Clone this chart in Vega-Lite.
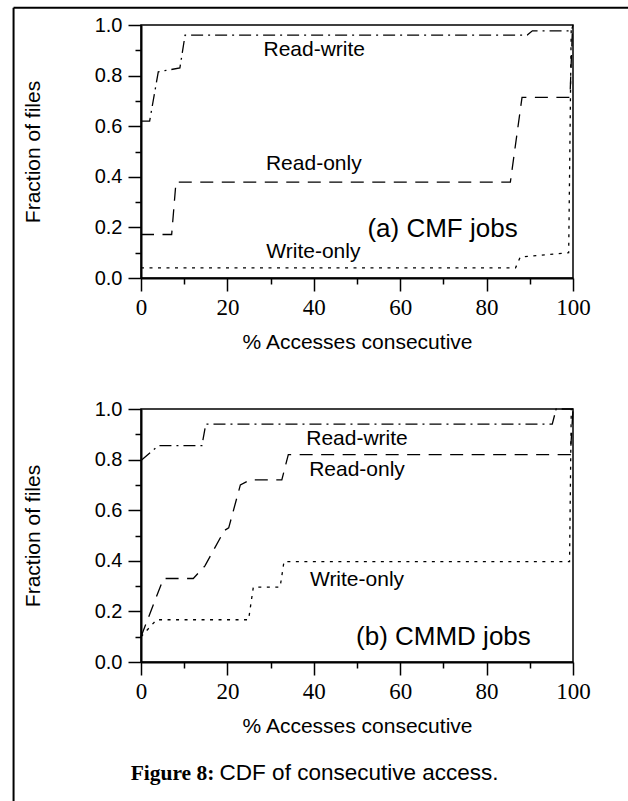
{
  "$schema": "https://vega.github.io/schema/vega-lite/v6.json",
  "autosize": {"type": "pad"},
  "padding": {"left": 11, "top": 6, "right": 0, "bottom": 0},
  "background": "white",
  "config": {
    "view": {"stroke": "black", "strokeWidth": 1.5},
    "axis": {
      "domainColor": "black", "domainWidth": 2, "tickColor": "black", "tickWidth": 1.5,
      "labelColor": "black", "titleColor": "black", "grid": false,
      "titleFont": "Liberation Sans", "titleFontWeight": "normal", "titleFontSize": 21
    },
    "text": {"font": "Liberation Sans", "color": "black"}
  },
  "datasets": {
    "curves": [
      {"panel": "a", "series": "Read-write", "x": 0, "y": 0.62},
      {"panel": "a", "series": "Read-write", "x": 2, "y": 0.62},
      {"panel": "a", "series": "Read-write", "x": 4, "y": 0.815},
      {"panel": "a", "series": "Read-write", "x": 9, "y": 0.83},
      {"panel": "a", "series": "Read-write", "x": 10.2, "y": 0.96},
      {"panel": "a", "series": "Read-write", "x": 89.4, "y": 0.96},
      {"panel": "a", "series": "Read-write", "x": 90.6, "y": 0.977},
      {"panel": "a", "series": "Read-write", "x": 99.6, "y": 0.977},
      {"panel": "a", "series": "Read-write", "x": 100, "y": 1},
      {"panel": "a", "series": "Read-only", "x": 0, "y": 0.172},
      {"panel": "a", "series": "Read-only", "x": 7.1, "y": 0.172},
      {"panel": "a", "series": "Read-only", "x": 8.1, "y": 0.379},
      {"panel": "a", "series": "Read-only", "x": 85.5, "y": 0.379},
      {"panel": "a", "series": "Read-only", "x": 88.2, "y": 0.714},
      {"panel": "a", "series": "Read-only", "x": 99.3, "y": 0.714},
      {"panel": "a", "series": "Read-only", "x": 99.9, "y": 1},
      {"panel": "a", "series": "Write-only", "x": 0, "y": 0.04},
      {"panel": "a", "series": "Write-only", "x": 86.7, "y": 0.04},
      {"panel": "a", "series": "Write-only", "x": 87.8, "y": 0.083},
      {"panel": "a", "series": "Write-only", "x": 99, "y": 0.1},
      {"panel": "a", "series": "Write-only", "x": 99.6, "y": 1},
      {"panel": "b", "series": "Read-write", "x": 0, "y": 0.796},
      {"panel": "b", "series": "Read-write", "x": 4, "y": 0.855},
      {"panel": "b", "series": "Read-write", "x": 14.1, "y": 0.855},
      {"panel": "b", "series": "Read-write", "x": 15, "y": 0.94},
      {"panel": "b", "series": "Read-write", "x": 95.2, "y": 0.94},
      {"panel": "b", "series": "Read-write", "x": 96.1, "y": 1},
      {"panel": "b", "series": "Read-write", "x": 100, "y": 1},
      {"panel": "b", "series": "Read-only", "x": 0, "y": 0.1},
      {"panel": "b", "series": "Read-only", "x": 5.2, "y": 0.33},
      {"panel": "b", "series": "Read-only", "x": 12.1, "y": 0.33},
      {"panel": "b", "series": "Read-only", "x": 14.8, "y": 0.38},
      {"panel": "b", "series": "Read-only", "x": 19.3, "y": 0.52},
      {"panel": "b", "series": "Read-only", "x": 20.3, "y": 0.53},
      {"panel": "b", "series": "Read-only", "x": 23, "y": 0.7},
      {"panel": "b", "series": "Read-only", "x": 25.3, "y": 0.72},
      {"panel": "b", "series": "Read-only", "x": 32.6, "y": 0.72},
      {"panel": "b", "series": "Read-only", "x": 34.1, "y": 0.82},
      {"panel": "b", "series": "Read-only", "x": 99.4, "y": 0.82},
      {"panel": "b", "series": "Read-only", "x": 100, "y": 1},
      {"panel": "b", "series": "Write-only", "x": 0, "y": 0.1},
      {"panel": "b", "series": "Write-only", "x": 3.6, "y": 0.167},
      {"panel": "b", "series": "Write-only", "x": 24.9, "y": 0.167},
      {"panel": "b", "series": "Write-only", "x": 26, "y": 0.296},
      {"panel": "b", "series": "Write-only", "x": 32.2, "y": 0.296},
      {"panel": "b", "series": "Write-only", "x": 33.1, "y": 0.397},
      {"panel": "b", "series": "Write-only", "x": 99.2, "y": 0.397},
      {"panel": "b", "series": "Write-only", "x": 99.6, "y": 1}
    ],
    "labels": [
      {"panel": "a", "kind": "series", "label": "Read-write", "x": 40.1, "y": 0.9},
      {"panel": "a", "kind": "series", "label": "Read-only", "x": 40, "y": 0.45},
      {"panel": "a", "kind": "series", "label": "Write-only", "x": 39.9, "y": 0.102},
      {"panel": "a", "kind": "panel", "label": "(a) CMF jobs", "x": 69.8, "y": 0.194},
      {"panel": "b", "kind": "series", "label": "Read-write", "x": 50, "y": 0.88},
      {"panel": "b", "kind": "series", "label": "Read-only", "x": 50, "y": 0.757},
      {"panel": "b", "kind": "series", "label": "Write-only", "x": 50, "y": 0.324},
      {"panel": "b", "kind": "panel", "label": "(b) CMMD jobs", "x": 70, "y": 0.098}
    ],
    "one": [{}]
  },
  "vconcat": [
    {
      "width": 432, "height": 253,
      "resolve": {"axis": {"x": "independent", "y": "independent"}},
      "layer": [
        {
          "data": {"name": "curves"},
          "transform": [{"filter": "datum.panel === 'a'"}],
          "mark": {"type": "line", "color": "black", "strokeWidth": 1.3},
          "encoding": {
            "x": {"field": "x", "type": "quantitative", "scale": {"domain": [0, 100], "nice": false},
              "axis": {"orient": "bottom", "values": [0, 20, 40, 60, 80, 100], "tickSize": 13, "labelFont": "Liberation Serif", "labelFontSize": 23, "labelPadding": 5, "labelFlush": false, "title": "% Accesses consecutive", "titlePadding": 12}},
            "y": {"field": "y", "type": "quantitative", "scale": {"domain": [0, 1], "nice": false},
              "axis": {"orient": "left", "values": [0, 0.2, 0.4, 0.6, 0.8, 1], "format": ".1f", "tickSize": 13, "labelFont": "Liberation Sans", "labelFontSize": 20, "labelPadding": 6, "labelFlush": false, "title": "Fraction of files", "titlePadding": 51}},
            "strokeDash": {"field": "series", "type": "nominal",
              "scale": {"domain": ["Read-write", "Read-only", "Write-only"], "range": [[12, 5, 2, 5], [13, 8.5], [3, 5.5]]}, "legend": null}
          }
        },
        {
          "data": {"name": "labels"},
          "transform": [{"filter": "datum.panel === 'a'"}],
          "mark": {"type": "text", "align": "center", "baseline": "middle"},
          "encoding": {
            "x": {"field": "x", "type": "quantitative", "scale": {"domain": [0, 100], "nice": false},
              "axis": {"orient": "bottom", "values": [10, 30, 50, 70, 90], "tickSize": 6, "labels": false, "domain": false, "title": null}},
            "y": {"field": "y", "type": "quantitative", "scale": {"domain": [0, 1], "nice": false},
              "axis": {"orient": "left", "values": [0.1, 0.3, 0.5, 0.7, 0.9], "tickSize": 6, "labels": false, "domain": false, "title": null}},
            "text": {"field": "label"},
            "size": {"field": "kind", "type": "ordinal", "scale": {"domain": ["series", "panel"], "range": [21, 26]}, "legend": null}
          }
        },
        {
          "data": {"name": "one"},
          "mark": {"type": "rule", "color": "black", "strokeWidth": 2},
          "encoding": {
            "x": {"datum": -29.5, "type": "quantitative", "axis": null},
            "y": {"datum": 1.068, "type": "quantitative", "axis": null},
            "y2": {"datum": -2.1}
          }
        },
        {
          "data": {"name": "one"},
          "mark": {"type": "rule", "color": "black", "strokeWidth": 2},
          "encoding": {
            "x": {"datum": -29.5, "type": "quantitative", "axis": null},
            "x2": {"datum": 116},
            "y": {"datum": 1.068, "type": "quantitative", "axis": null}
          }
        }
      ]
    },
    {
      "width": 432, "height": 253,
      "resolve": {"axis": {"x": "independent", "y": "independent"}},
      "layer": [
        {
          "data": {"name": "curves"},
          "transform": [{"filter": "datum.panel === 'b'"}],
          "mark": {"type": "line", "color": "black", "strokeWidth": 1.3},
          "encoding": {
            "x": {"field": "x", "type": "quantitative", "scale": {"domain": [0, 100], "nice": false},
              "axis": {"orient": "bottom", "values": [0, 20, 40, 60, 80, 100], "tickSize": 13, "labelFont": "Liberation Serif", "labelFontSize": 23, "labelPadding": 5, "labelFlush": false, "title": "% Accesses consecutive", "titlePadding": 12}},
            "y": {"field": "y", "type": "quantitative", "scale": {"domain": [0, 1], "nice": false},
              "axis": {"orient": "left", "values": [0, 0.2, 0.4, 0.6, 0.8, 1], "format": ".1f", "tickSize": 13, "labelFont": "Liberation Sans", "labelFontSize": 20, "labelPadding": 6, "labelFlush": false, "title": "Fraction of files", "titlePadding": 51}},
            "strokeDash": {"field": "series", "type": "nominal",
              "scale": {"domain": ["Read-write", "Read-only", "Write-only"], "range": [[12, 5, 2, 5], [13, 8.5], [3, 5.5]]}, "legend": null}
          }
        },
        {
          "data": {"name": "labels"},
          "transform": [{"filter": "datum.panel === 'b'"}],
          "mark": {"type": "text", "align": "center", "baseline": "middle"},
          "encoding": {
            "x": {"field": "x", "type": "quantitative", "scale": {"domain": [0, 100], "nice": false},
              "axis": {"orient": "bottom", "values": [10, 30, 50, 70, 90], "tickSize": 6, "labels": false, "domain": false, "title": null}},
            "y": {"field": "y", "type": "quantitative", "scale": {"domain": [0, 1], "nice": false},
              "axis": {"orient": "left", "values": [0.1, 0.3, 0.5, 0.7, 0.9], "tickSize": 6, "labels": false, "domain": false, "title": null}},
            "text": {"field": "label"},
            "size": {"field": "kind", "type": "ordinal", "scale": {"domain": ["series", "panel"], "range": [21, 26]}, "legend": null}
          }
        },
        {
          "data": {"name": "one"},
          "mark": {"type": "text", "align": "right", "baseline": "alphabetic", "font": "Liberation Serif", "fontWeight": "bold", "fontSize": 21.5},
          "encoding": {
            "x": {"datum": 17.0, "type": "quantitative", "axis": null},
            "y": {"datum": -0.465, "type": "quantitative", "axis": null},
            "text": {"value": "Figure 8:"}
          }
        },
        {
          "data": {"name": "one"},
          "mark": {"type": "text", "align": "left", "baseline": "alphabetic", "font": "Liberation Sans", "fontSize": 22.5},
          "encoding": {
            "x": {"datum": 18.2, "type": "quantitative", "axis": null},
            "y": {"datum": -0.465, "type": "quantitative", "axis": null},
            "text": {"value": "CDF of consecutive access."}
          }
        }
      ]
    }
  ],
  "spacing": 131,
  "bounds": "flush"
}
